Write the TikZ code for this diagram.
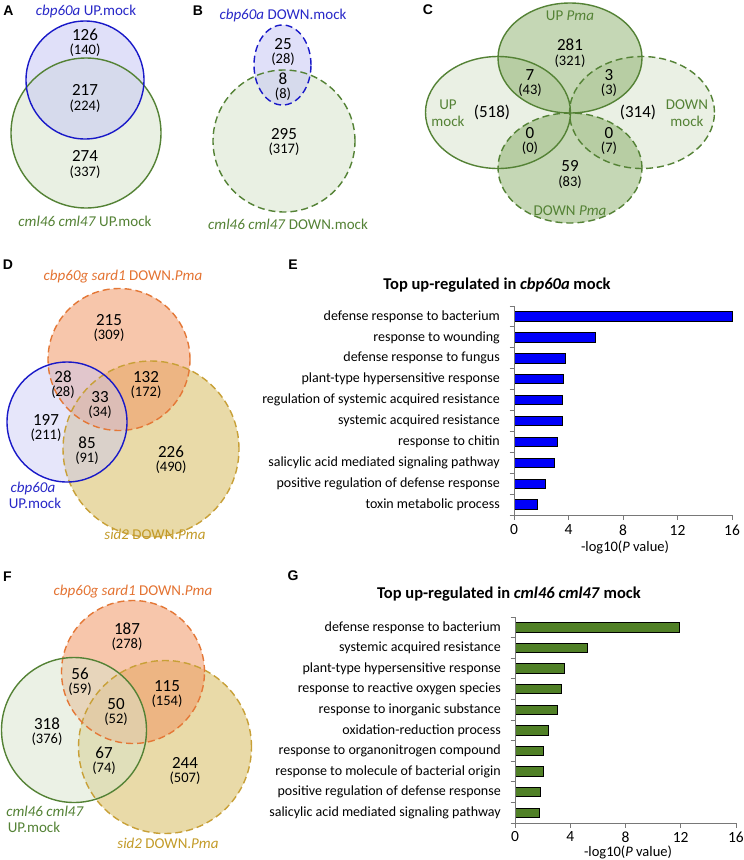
\documentclass[tikz,border=0pt]{standalone}
\usepackage{fontspec}
\setmainfont{Carlito}
\newfontfamily\letterfont{Liberation Sans}
\newcommand{\fsz}[1]{\fontsize{#1}{#1}\selectfont}
\definecolor{blueline}{RGB}{25,25,200}
\definecolor{bluebase}{RGB}{200,200,245}
\definecolor{bluetext}{RGB}{40,40,200}
\definecolor{greenline}{RGB}{84,130,53}
\definecolor{greenbase}{RGB}{216,228,204}
\definecolor{greentext}{RGB}{84,130,53}
\definecolor{cgreen}{RGB}{95,145,50}
\definecolor{orangeline}{RGB}{228,120,55}
\definecolor{orangebase}{RGB}{242,152,102}
\definecolor{orangetext}{RGB}{228,115,50}
\definecolor{tanline}{RGB}{200,160,55}
\definecolor{tanbase}{RGB}{216,188,98}
\definecolor{tantext}{RGB}{195,155,40}
\definecolor{barblue}{RGB}{0,0,250}
\definecolor{bargreen}{RGB}{80,128,38}
\definecolor{axisgray}{RGB}{120,120,120}
\begin{document}
\begin{tikzpicture}[x=1pt,y=-1pt,
  num/.style={font=\fsz{17}, inner sep=0pt},
  sub/.style={font=\fsz{14.5}, inner sep=0pt},
  lab/.style={font=\fsz{15}, inner sep=0pt},
  tick/.style={font=\fsz{15.5}, inner sep=0pt},
  xlab/.style={font=\fsz{14.5}, inner sep=0pt},
  cat/.style={font=\fsz{14}, inner sep=0pt, anchor=east},
  ttl/.style={font=\bfseries\fsz{16.5}, inner sep=0pt},
  panel/.style={font=\letterfont\bfseries\fsz{14}, inner sep=0pt},
  dashedline/.style={dash pattern=on 7pt off 4pt},
  lw/.style={line width=1.4pt},
  axisline/.style={draw=axisgray, line width=0.9pt},
  barE/.style={fill=barblue, draw=black, line width=0.8pt},
  barG/.style={fill=bargreen, draw=black, line width=0.8pt}]
\useasboundingbox (0,0) rectangle (744,860);
\fill[white] (0,0) rectangle (744,860);

% ---------------- Panel A
\node[panel] (pA) at (8.5,11) {A};
\path[fill=greenbase, fill opacity=0.55] (86,133) circle[radius=75pt];
\path[fill=bluebase, fill opacity=0.55] (85,80) circle[radius=59pt];
\draw[greenline, lw] (86,133) circle[radius=75pt];
\draw[blueline, lw] (85,80) circle[radius=59pt];
\node[lab, text=bluetext] (Alab1) at (86,11) {\textit{cbp60a} UP.mock};
\node[lab, text=greentext] (Alab2) at (85,221) {\textit{cml46 cml47} UP.mock};
\node[num] (A1) at (85,35) {126}; \node[sub] (A1s) at (85,50.5) {(140)};
\node[num] (A2) at (85,90) {217}; \node[sub] (A2s) at (85,106) {(224)};
\node[num] (A3) at (85,156) {274}; \node[sub] (A3s) at (85,172) {(337)};

% ---------------- Panel B
\node[panel] (pB) at (198,11) {B};
\path[fill=greenbase, fill opacity=0.55] (284,141) circle[radius=71pt];
\path[fill=bluebase, fill opacity=0.55] (282.5,65) ellipse[x radius=28.5pt, y radius=40pt];
\draw[greenline, lw, dashedline] (284,141) circle[radius=71pt];
\draw[blueline, lw, dashedline] (282.5,65) ellipse[x radius=28.5pt, y radius=40pt];
\node[lab, text=bluetext] (Blab1) at (283,15) {\textit{cbp60a} DOWN.mock};
\node[lab, text=greentext] (Blab2) at (288,224) {\textit{cml46 cml47} DOWN.mock};
\node[num] (B1) at (283,44) {25}; \node[sub] (B1s) at (283,59.5) {(28)};
\node[num] (B2) at (283,79) {8}; \node[sub] (B2s) at (283,94.5) {(8)};
\node[num] (B3) at (284,134) {295}; \node[sub] (B3s) at (284,149.5) {(317)};

% ---------------- Panel C
\node[panel] (pC) at (428,10) {C};
\path[fill=cgreen, fill opacity=0.13] (498,112.5) ellipse[x radius=72.5pt, y radius=56pt];
\path[fill=cgreen, fill opacity=0.13] (642,112.5) ellipse[x radius=72.5pt, y radius=56pt];
\path[fill=cgreen, fill opacity=0.36] (570,58) ellipse[x radius=72pt, y radius=55pt];
\path[fill=cgreen, fill opacity=0.36] (570,168) ellipse[x radius=72pt, y radius=55pt];
\draw[greenline, lw] (498,112.5) ellipse[x radius=72.5pt, y radius=56pt];
\draw[greenline, lw, dashedline] (642,112.5) ellipse[x radius=72.5pt, y radius=56pt];
\draw[greenline, lw] (570,58) ellipse[x radius=72pt, y radius=55pt];
\draw[greenline, lw, dashedline] (570,168) ellipse[x radius=72pt, y radius=55pt];
\node[lab, text=greentext] (Clab1) at (570,16) {UP \textit{Pma}};
\node[lab, text=greentext] (Clab2) at (570,211) {DOWN \textit{Pma}};
\node[lab, text=greentext] (Clab3) at (448,105) {UP};
\node[lab, text=greentext] (Clab3b) at (448,121) {mock};
\node[lab, text=greentext] (Clab4) at (687,105) {DOWN};
\node[lab, text=greentext] (Clab4b) at (687,121) {mock};
\node[num] (C1) at (570,45) {281}; \node[sub] (C1s) at (570,61) {(321)};
\node[num] (C2) at (530,75) {7}; \node[sub] (C2s) at (530,90.5) {(43)};
\node[num] (C3) at (609,75) {3}; \node[sub] (C3s) at (609,90.5) {(3)};
\node[num] (C4) at (492,112) {(518)};
\node[num] (C5) at (638,112) {(314)};
\node[num] (C6) at (530,133) {0}; \node[sub] (C6s) at (530,148.5) {(0)};
\node[num] (C7) at (609,133) {0}; \node[sub] (C7s) at (609,148.5) {(7)};
\node[num] (C8) at (570,166) {59}; \node[sub] (C8s) at (570,182) {(83)};

% ---------------- Panel D
\node[panel] (pD) at (8,265) {D};
\path[fill=tanbase, fill opacity=0.55] (151,449) circle[radius=88pt];
\path[fill=orangebase, fill opacity=0.55] (119,359.5) circle[radius=71pt];
\path[fill=bluebase, fill opacity=0.45] (67,422) circle[radius=60pt];
\draw[tanline, lw, dashedline] (151,449) circle[radius=88pt];
\draw[orangeline, lw, dashedline] (119,359.5) circle[radius=71pt];
\draw[blueline, lw] (67,422) circle[radius=60pt];
\node[lab, text=orangetext] (Dlab1) at (123,277) {\textit{cbp60g sard1} DOWN.\textit{Pma}};
\node[lab, text=bluetext] (Dlab2) at (33,488) {\textit{cbp60a}};
\node[lab, text=bluetext] (Dlab2b) at (35,503) {UP.mock};
\node[lab, text=tantext] (Dlab3) at (155,534) {\textit{sid2} DOWN.\textit{Pma}};
\node[num] (D1) at (109,320) {215}; \node[sub] (D1s) at (109,335.5) {(309)};
\node[num] (D2) at (63,377) {28}; \node[sub] (D2s) at (63,392.5) {(28)};
\node[num] (D3) at (100,397) {33}; \node[sub] (D3s) at (100,412.5) {(34)};
\node[num] (D4) at (146,377) {132}; \node[sub] (D4s) at (146,392.5) {(172)};
\node[num] (D5) at (46,420) {197}; \node[sub] (D5s) at (46,435.5) {(211)};
\node[num] (D6) at (87,443) {85}; \node[sub] (D6s) at (87,458.5) {(91)};
\node[num] (D7) at (171,452) {226}; \node[sub] (D7s) at (171,467.5) {(490)};

% ---------------- Panel F
\node[panel] (pF) at (7.5,577) {F};
\path[fill=tanbase, fill opacity=0.55] (165,747) circle[radius=86.5pt];
\path[fill=orangebase, fill opacity=0.55] (133,672) circle[radius=71.5pt];
\path[fill=greenbase, fill opacity=0.5] (74,730) circle[radius=72.5pt];
\draw[tanline, lw, dashedline] (165,747) circle[radius=86.5pt];
\draw[orangeline, lw, dashedline] (133,672) circle[radius=71.5pt];
\draw[greenline, lw] (74,730) circle[radius=72.5pt];
\node[lab, text=orangetext] (Flab1) at (133,592) {\textit{cbp60g sard1} DOWN.\textit{Pma}};
\node[lab, text=greentext] (Flab2) at (45,811) {\textit{cml46 cml47}};
\node[lab, text=greentext] (Flab2b) at (34,827) {UP.mock};
\node[lab, text=tantext] (Flab3) at (168,843) {\textit{sid2} DOWN.\textit{Pma}};
\node[num] (F1) at (127,629) {187}; \node[sub] (F1s) at (127,644.5) {(278)};
\node[num] (F2) at (80,674) {56}; \node[sub] (F2s) at (80,689.5) {(59)};
\node[num] (F3) at (167,686) {115}; \node[sub] (F3s) at (167,701.5) {(154)};
\node[num] (F4) at (116,704) {50}; \node[sub] (F4s) at (116,719.5) {(52)};
\node[num] (F5) at (47,724) {318}; \node[sub] (F5s) at (47,739.5) {(376)};
\node[num] (F6) at (104,753) {67}; \node[sub] (F6s) at (104,768.5) {(74)};
\node[num] (F7) at (185,763) {244}; \node[sub] (F7s) at (185,778.5) {(507)};

% ---------------- Panel E
\node[panel] (pE) at (293,265) {E};
\node[ttl] (Etitle) at (497,285) {Top up-regulated in \textit{cbp60a} mock};
\foreach \v/\t [count=\i from 0] in {16.0/defense response to bacterium,
  6.0/response to wounding, 3.8/defense response to fungus,
  3.6/plant-type hypersensitive response,
  3.55/regulation of systemic acquired resistance,
  3.55/systemic acquired resistance, 3.2/response to chitin,
  3.0/salicylic acid mediated signaling pathway,
  2.33/positive regulation of defense response, 1.7/toxin metabolic process}{
  \pgfmathsetmacro{\yc}{306+20.9*(\i+0.5)}
  \pgfmathsetmacro{\xe}{514+13.625*\v}
  \node[cat] (Ecat\i) at (500,\yc) {\t};
  \draw[barE] (514,\yc-4.7) rectangle (\xe,\yc+4.7);
}
\foreach \k in {0,...,10}{
  \draw[axisline] (509.5,{306+20.9*\k}) -- (514,{306+20.9*\k});
}
\draw[axisline] (514,306) -- (514,515) -- (732,515);
\foreach \k in {0,4,8,12,16}{
  \draw[axisline] ({514+13.625*\k},515) -- ++(0,4.5);
  \node[tick] (Etick\k) at ({514+13.625*\k},530) {\k};
}
\node[xlab] (Exlab) at (625,547.5) {-log10(\textit{P} value)};

% ---------------- Panel G
\node[panel] (pG) at (293,576) {G};
\node[ttl] (Gtitle) at (509,594) {Top up-regulated in \textit{cml46 cml47} mock};
\foreach \v/\t [count=\i from 0] in {11.9/defense response to bacterium,
  5.27/systemic acquired resistance, 3.57/plant-type hypersensitive response,
  3.36/response to reactive oxygen species,
  3.07/response to inorganic substance, 2.41/oxidation-reduction process,
  2.05/response to organonitrogen compound,
  2.05/response to molecule of bacterial origin,
  1.81/positive regulation of defense response,
  1.76/salicylic acid mediated signaling pathway}{
  \pgfmathsetmacro{\yc}{617+20.6*(\i+0.5)}
  \pgfmathsetmacro{\xe}{515+13.81*\v}
  \node[cat] (Gcat\i) at (501,\yc) {\t};
  \draw[barG] (515,\yc-4.7) rectangle (\xe,\yc+4.7);
}
\foreach \k in {0,...,10}{
  \draw[axisline] (510.5,{617+20.6*\k}) -- (515,{617+20.6*\k});
}
\draw[axisline] (515,617) -- (515,823) -- (736,823);
\foreach \k in {0,4,8,12,16}{
  \draw[axisline] ({515+13.81*\k},823) -- ++(0,4.5);
  \node[tick] (Gtick\k) at ({515+13.81*\k},837) {\k};
}
\node[xlab] (Gxlab) at (628,852) {-log10(\textit{P} value)};
\end{tikzpicture}
\end{document}
